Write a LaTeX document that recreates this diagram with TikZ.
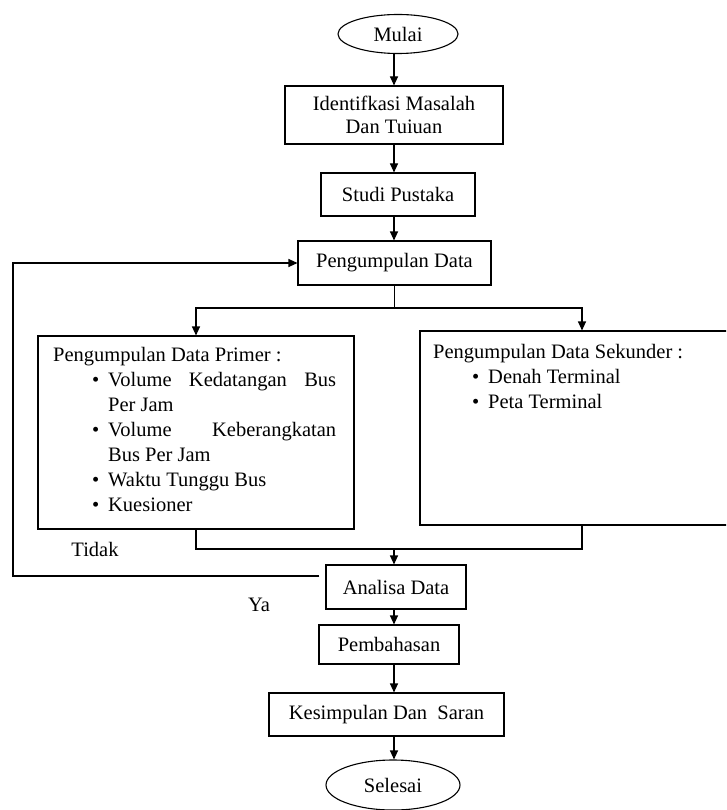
\documentclass[tikz,border=0pt]{standalone}
\usepackage{fontspec}
\setmainfont{Liberation Serif}
\usetikzlibrary{shapes.geometric, arrows.meta}

\setlength{\parindent}{0pt}

%% One bullet line inside the data boxes
\newcommand{\butir}[1]{\par\hangindent=55pt\hangafter=0\noindent\llap{\textbullet\hspace{9pt}}#1\par}

\begin{document}
\begin{tikzpicture}[
	x=1pt, y=-1pt,
	font=\fontsize{20.5}{25}\selectfont,
	edge/.style = {line width=1.1pt},
	arrow/.style = {edge, -{Triangle[length=9pt,width=8pt]}},
	box/.style = {draw, edge, rectangle, inner sep=0pt},
	terminal/.style = {draw, edge, ellipse, inner sep=0pt},
	boxtext/.style = {anchor=north west, inner sep=0pt, text width=#1, align=justify},
]
	\clip (0,0) rectangle (726,810);

	%% The main column
	\node [terminal, minimum width=120, minimum height=39] at (398,34) (mulai) {Mulai};
	\node [box, minimum width=218, minimum height=58, align=center,
		font=\fontsize{20.5}{23}\selectfont] at (394,115) (ident) {Identifkasi Masalah\\Dan Tuiuan};
	\node [box, minimum width=154, minimum height=43] at (398,194.5) (studi) {Studi Pustaka};
	\node [box, minimum width=193, minimum height=44] at (394.5,263) (kumpul) {Pengumpulan Data};

	%% The two data boxes
	\node [box, minimum width=316, minimum height=193] at (196,432.5) (primer) {};
	\node [boxtext=283] at (53,347) (primer text) {Pengumpulan Data Primer :%
		\butir{Volume Kedatangan Bus\linebreak Per Jam}%
		\butir{Volume Keberangkatan\linebreak Bus Per Jam}%
		\butir{Waktu Tunggu Bus}%
		\butir{Kuesioner}};
	\node [box, minimum width=316, minimum height=194] at (578,428) (sekunder) {};
	\node [boxtext=280] at (433,344) (sekunder text) {Pengumpulan Data Sekunder :%
		\butir{Denah Terminal}%
		\butir{Peta Terminal}};

	%% The lower column
	\node [box, minimum width=140, minimum height=44] at (396,587) (analisa) {Analisa Data};
	\node [box, minimum width=140, minimum height=39] at (389,644.5) (bahas) {Pembahasan};
	\node [box, minimum width=235, minimum height=43] at (386.5,714.5) (simpul) {Kesimpulan Dan~ Saran};
	\node [terminal, minimum width=134, minimum height=50] at (393,785) (selesai) {Selesai};

	%% Branch labels
	\node at (95,549) (tidak) {Tidak};
	\node at (259,605) (ya) {Ya};

	%% Points where the lines split and join
	\coordinate (cabang) at (394.5,308);
	\coordinate (gabung) at (394,549);
	\coordinate (balik) at (13,576);

	%% Draw the connections
	\draw [arrow] (mulai.south -| gabung) -- (gabung |- ident.north);
	\draw [arrow] (gabung |- ident.south) -- (gabung |- studi.north);
	\draw [arrow] (gabung |- studi.south) -- (gabung |- kumpul.north);
	\draw [edge] (kumpul) -- (cabang);
	\draw [arrow] (cabang) -| (primer.north);
	\draw [arrow] (cabang) -| ([xshift=4pt]sekunder.north);
	\draw [edge] (primer) |- (gabung) -| ([xshift=4pt]sekunder.south);
	\draw [arrow] (gabung) -- (gabung |- analisa.north);
	\foreach \a/\b in {analisa/bahas, bahas/simpul, simpul/selesai}{%
		\draw [arrow] (gabung |- \a.south) -- (gabung |- \b.north);
	}

	%% The way back when the data are not enough
	\draw [arrow] ([xshift=-6pt,yshift=11pt]analisa.west) -- (balik) |- (kumpul.west);

\end{tikzpicture}
\end{document}
